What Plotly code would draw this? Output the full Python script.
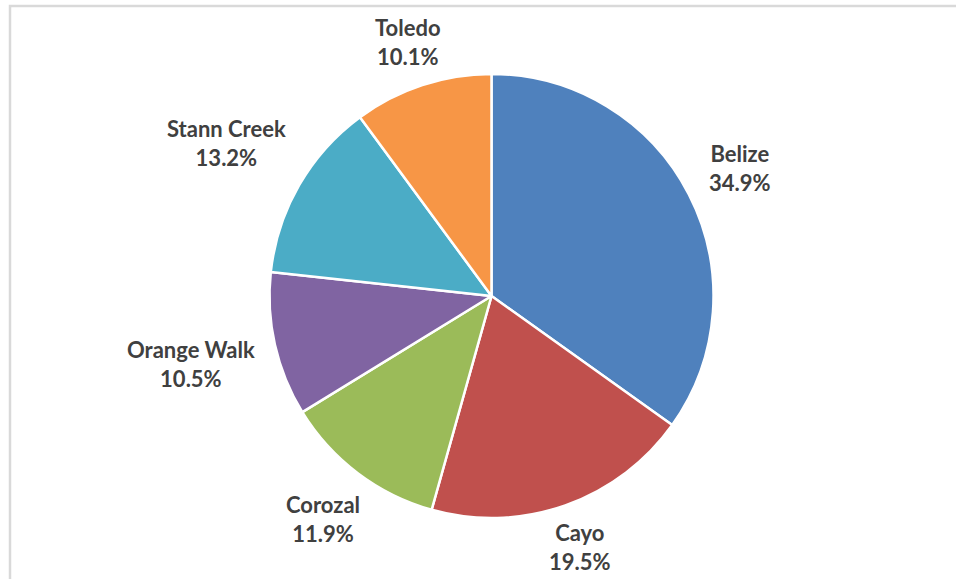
import math
import plotly.graph_objects as go

regions = ["Belize", "Cayo", "Corozal", "Orange Walk", "Stann Creek", "Toledo"]
shares = [34.9, 19.5, 11.9, 10.5, 13.2, 10.1]
colors = ["#4F81BD", "#C0504D", "#9BBB59", "#8064A2", "#4BACC6", "#F79646"]

W, H = 956, 579
CX, CY, R = 491.5, 296, 222
FONT = "Lato"
FS = 22

fig = go.Figure(go.Pie(
    labels=regions,
    values=shares,
    sort=False,
    direction="clockwise",
    rotation=0,
    marker=dict(colors=colors, line=dict(color="white", width=2.5)),
    textinfo="none",
    hoverinfo="label+value",
    showlegend=False,
    domain=dict(x=[(CX - R) / W, (CX + R) / W], y=[1 - (CY + R) / H, 1 - (CY - R) / H]),
))

# data labels placed outside the slices, at each slice's mid angle
total = sum(shares)
cum = 0.0
annotations = []
for name, v in zip(regions, shares):
    mid = (cum + v / 2) / total * 2 * math.pi
    cum += v
    sx, sy = math.sin(mid), -math.cos(mid)
    txt_pct = f"{v:.1f}%"
    wchars = max(len(name), len(txt_pct))
    half_w = wchars * 0.55 * FS / 2
    half_h = 18
    ext = abs(sx) * half_w + abs(sy) * half_h
    d = 239 + ext
    px, py = CX + d * sx, CY + d * sy
    annotations.append(dict(
        x=px / W, y=1 - py / H, xref="paper", yref="paper",
        text=f"<b>{name}</b><br><b>{txt_pct}</b>", showarrow=False,
        xanchor="center", yanchor="middle", align="center",
        font=dict(family=FONT, size=FS, color="#404040"),
    ))

fig.update_layout(
    width=W, height=H,
    margin=dict(l=0, r=0, t=0, b=0),
    paper_bgcolor="white",
    plot_bgcolor="white",
    annotations=annotations,
    shapes=[dict(type="rect", xref="paper", yref="paper",
                 x0=10 / W, x1=1.05, y0=-0.05, y1=1 - 6 / H,
                 line=dict(color="#D9D9D9", width=2.5), fillcolor="rgba(0,0,0,0)")],
)

fig.write_html("out.html", config={"displayModeBar": False},
               post_script="document.body.style.margin='0';")
